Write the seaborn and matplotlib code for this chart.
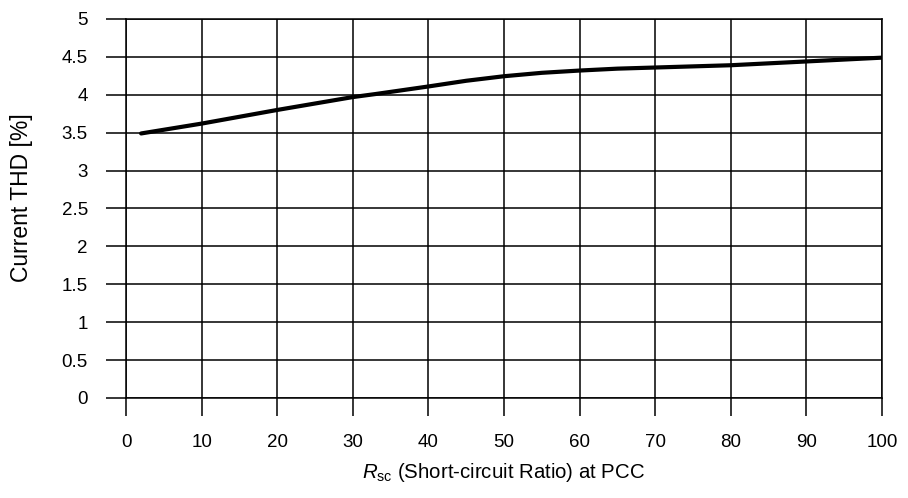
import matplotlib
matplotlib.use("Agg")
import matplotlib.pyplot as plt
import seaborn as sns
import pandas as pd

rsc = [2, 10, 20, 30, 33, 40, 45, 50, 55, 60, 65, 70, 80, 90, 100]
thd = [3.49, 3.62, 3.80, 3.97, 4.01, 4.11, 4.185, 4.245, 4.29, 4.32, 4.345, 4.36, 4.39, 4.44, 4.49]
x_ticks = [0, 10, 20, 30, 40, 50, 60, 70, 80, 90, 100]
y_ticks = [0, 0.5, 1, 1.5, 2, 2.5, 3, 3.5, 4, 4.5, 5]
y_tick_labels = ["0", "0.5", "1", "1.5", "2", "2.5", "3", "3.5", "4", "4.5", "5"]

sns.set_theme(style="white")
plt.rcParams['font.family'] = ['Liberation Sans', 'DejaVu Sans']
plt.rcParams['mathtext.fontset'] = 'custom'
plt.rcParams['mathtext.it'] = 'Liberation Sans:italic'
plt.rcParams['mathtext.rm'] = 'Liberation Sans'

df = pd.DataFrame({"rsc": rsc, "thd": thd})

fig = plt.figure(figsize=(9.08, 4.98), dpi=100)
ax = fig.add_axes([126/908, 1 - 398/498, (882 - 126)/908, (398 - 19)/498])

sns.lineplot(data=df, x="rsc", y="thd", ax=ax, color="black", linewidth=3.0)

ax.set_xlim(0, 100)
ax.set_ylim(0, 5)
ax.set_xticks(x_ticks)
ax.set_yticks(y_ticks)
ax.set_yticklabels(y_tick_labels)
ax.grid(True, color="black", linewidth=1.1)
for s in ax.spines.values():
    s.set_visible(True)
    s.set_color("black")
    s.set_linewidth(1.1)
ax.tick_params(axis="x", length=13, width=1.1, color="black", pad=13, labelsize=13.5, labelcolor="black", direction="out", bottom=True)
ax.tick_params(axis="y", length=14.4, width=1.1, color="black", pad=13, labelsize=13.5, labelcolor="black", direction="out", left=True)

ax.set_xlabel(r"$\mathit{R}_{\mathrm{sc}}$ (Short-circuit Ratio) at PCC", fontsize=14.7, color="black", labelpad=7)
ax.set_ylabel("Current THD [%]", fontsize=16.5, color="black")
ax.yaxis.set_label_coords(-0.123, 0.529)

fig.savefig("out.png", dpi=100)
